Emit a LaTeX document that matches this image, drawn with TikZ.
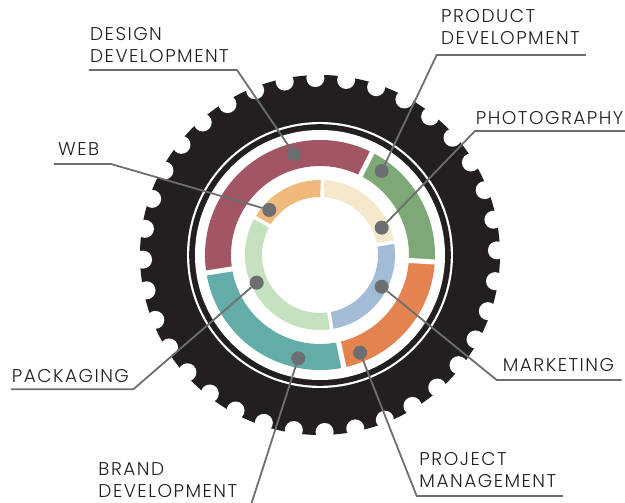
\documentclass[tikz,border=0pt]{standalone}
\usepackage{fontspec}
\setmainfont{Poppins Light}[LetterSpace=8]
\definecolor{gearblack}{HTML}{231F20}
\definecolor{leadgray}{HTML}{6D6E71}
\definecolor{designred}{HTML}{A25563}
\definecolor{productgreen}{HTML}{7EA876}
\definecolor{projectorange}{HTML}{E3834F}
\definecolor{brandteal}{HTML}{63ACA7}
\definecolor{weborange}{HTML}{F0B97C}
\definecolor{photobeige}{HTML}{F6E8CD}
\definecolor{packgreen}{HTML}{C6E1BF}
\definecolor{marketblue}{HTML}{A3BCD6}
% annular piece: colour, start angle, end angle, outer radius, inner radius
\newcommand{\ringseg}[5]{%
  \fill[#1] (#2:#4) arc[start angle=#2, end angle=#3, radius=#4]
    -- (#3:#5) arc[start angle=#3, end angle=#2, radius=#5] -- cycle;}
\tikzset{
  lbl/.style={anchor=north west, inner sep=0pt, align=left, text=gearblack,
    font=\fontsize{18.5}{22}\selectfont},
  leader/.style={draw=leadgray, line width=1.8pt},
  dot/.style={circle, fill=leadgray, inner sep=0pt, minimum size=14pt}
}
\begin{document}
\begin{tikzpicture}[x=1pt,y=1pt]
            \useasboundingbox (-320,-248) rectangle (305,255);
            % gear body with notched rim
                \fill[gearblack]
                    (0,0) circle (180);
                \foreach \a in {0,...,35}
                    \fill[white] (\a*10+1.5:177) circle (9);
                \fill[white]
                    (0,0) circle (133);
                \fill[gearblack]
                    (0,0) circle (130.8);
                \fill[white]
                    (0,0) circle (125);
            % outer ring
                \ringseg{designred}{63}{189}{115}{89}
                \ringseg{brandteal}{189}{282}{115}{89}
                \ringseg{projectorange}{282}{356.5}{115}{89}
                \ringseg{productgreen}{-3.5}{63}{115}{89}
                \foreach \a in {63,189,282,-3.5}
                    \draw[white, line width=5pt] (\a:85) -- (\a:119);
            % inner ring
                \ringseg{weborange}{88}{150}{75}{58}
                \ringseg{packgreen}{150}{279}{75}{58}
                \ringseg{marketblue}{279}{370}{75}{58}
                \ringseg{photobeige}{10}{88}{75}{58}
                \foreach \a in {88,150,279,10}
                    \draw[white, line width=3.5pt] (\a:54) -- (\a:79);
            % markers
                \node[dot] (design) at (104.3:103.9) {};
                \node[dot] (product) at (53.7:104.2) {};
                \node[dot] (photo) at (23.9:67.5) {};
                \node[dot] (market) at (-27.2:69.4) {};
                \node[dot] (project) at (-67.7:105.6) {};
                \node[dot] (brand) at (-101.9:105.6) {};
                \node[dot] (pack) at (203.6:69.1) {};
                \node[dot] (web) at (138.4:67.8) {};
            % labels
                \node[lbl] (designtxt) at (-230,228) {DESIGN\\DEVELOPMENT};
                \node[lbl] (webtxt) at (-262,113) {WEB};
                \node[lbl] (producttxt) at (121,245.3) {PRODUCT\\DEVELOPMENT};
                \node[lbl] (phototxt) at (155.7,144) {PHOTOGRAPHY};
                \node[lbl] (markettxt) at (182.7,-103.7) {MARKETING};
                \node[lbl] (projecttxt) at (99.3,-197) {PROJECT\\MANAGEMENT};
                \node[lbl] (brandtxt) at (-221.7,-207) {BRAND\\DEVELOPMENT};
                \node[lbl] (packtxt) at (-308.3,-114.7) {PACKAGING};
            % leader lines
                \coordinate (designa) at (-231,185);
                \coordinate (designb) at (-83,185);
                \coordinate (weba) at (-266,91);
                \coordinate (webb) at (-209,91);
                \coordinate (producta) at (266,200);
                \coordinate (productb) at (116.7,200);
                \coordinate (photoa) at (305,124);
                \coordinate (photob) at (155,124);
                \coordinate (marketa) at (301.7,-125);
                \coordinate (marketb) at (176.7,-125);
                \coordinate (projecta) at (243,-241);
                \coordinate (projectb) at (96.7,-241);
                \coordinate (branda) at (-69,-250);
                \coordinate (packa) at (-309,-134.3);
                \coordinate (packb) at (-186.7,-134.3);
                \draw[leader] (designa) -- (designb) -- (design);
                \draw[leader] (weba) -- (webb) -- (web);
                \draw[leader] (producta) -- (productb) -- (product);
                \draw[leader] (photoa) -- (photob) -- (photo);
                \draw[leader] (marketa) -- (marketb) -- (market);
                \draw[leader] (projecta) -- (projectb) -- (project);
                \draw[leader] (branda) -- (brand);
                \draw[leader] (packa) -- (packb) -- (pack);
            \end{tikzpicture}
\end{document}
